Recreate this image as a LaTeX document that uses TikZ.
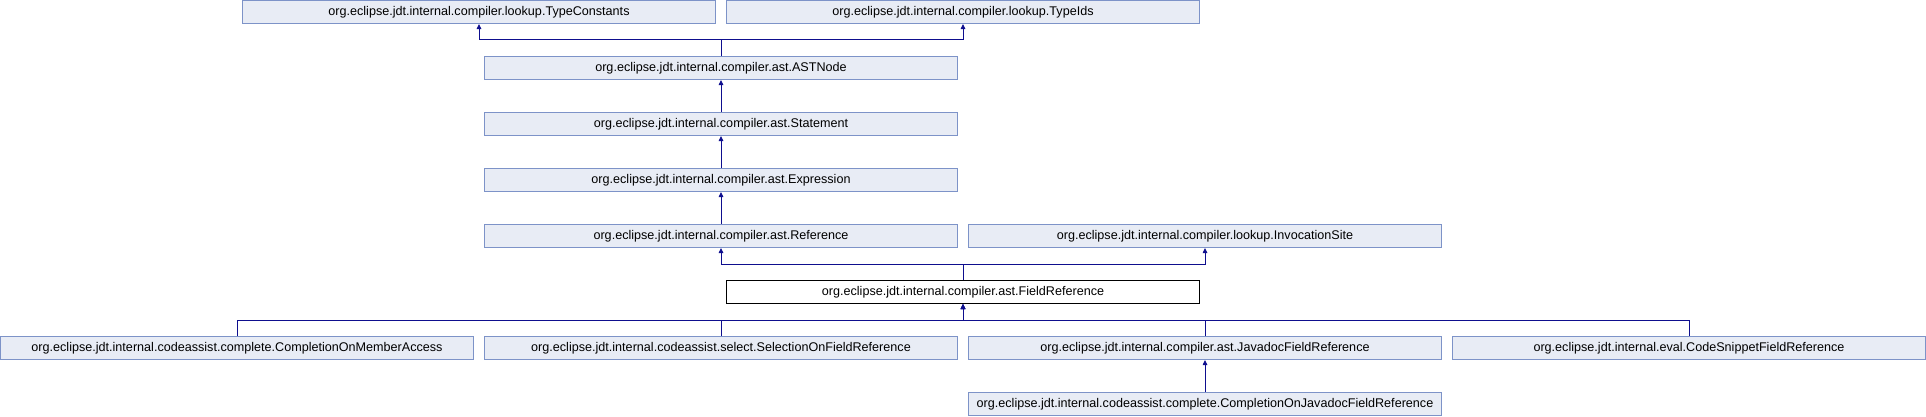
\documentclass[tikz,border=0pt]{standalone}
\usepackage{fontspec}
\setmainfont{Liberation Sans}
\usetikzlibrary{arrows.meta}
\definecolor{boxfill}{HTML}{E8ECF5}
\definecolor{boxline}{HTML}{7D93C8}
\definecolor{edgecol}{HTML}{0E0E8E}
\tikzset{
  cls/.style={draw=boxline, fill=boxfill, line width=1pt, minimum width=473pt, minimum height=23pt, inner sep=0pt, font=\fontsize{12.6}{14}\selectfont},
  cur/.style={cls, draw=black, fill=white},
  edge/.style={draw=edgecol, line width=0.9pt, -{Triangle[width=4.5pt,length=5pt]}}
}
\begin{document}
\begin{tikzpicture}[x=1pt,y=-1pt]
\useasboundingbox (0,0) rectangle (1926,416);
\node[cls] (tc) at (479,12) {org.eclipse.jdt.internal.compiler.lookup.TypeConstants};
\node[cls] (ti) at (963,12) {org.eclipse.jdt.internal.compiler.lookup.TypeIds};
\node[cls] (ast) at (721,68) {org.eclipse.jdt.internal.compiler.ast.ASTNode};
\node[cls] (st) at (721,124) {org.eclipse.jdt.internal.compiler.ast.Statement};
\node[cls] (ex) at (721,180) {org.eclipse.jdt.internal.compiler.ast.Expression};
\node[cls] (rf) at (721,236) {org.eclipse.jdt.internal.compiler.ast.Reference};
\node[cls] (is) at (1205,236) {org.eclipse.jdt.internal.compiler.lookup.InvocationSite};
\node[cur] (fr) at (963,292) {org.eclipse.jdt.internal.compiler.ast.FieldReference};
\node[cls] (cm) at (237,348) {org.eclipse.jdt.internal.codeassist.complete.CompletionOnMemberAccess};
\node[cls] (sf) at (721,348) {org.eclipse.jdt.internal.codeassist.select.SelectionOnFieldReference};
\node[cls] (jf) at (1205,348) {org.eclipse.jdt.internal.compiler.ast.JavadocFieldReference};
\node[cls] (cs) at (1689,348) {org.eclipse.jdt.internal.eval.CodeSnippetFieldReference};
\node[cls] (cj) at (1205,404) {org.eclipse.jdt.internal.codeassist.complete.CompletionOnJavadocFieldReference};
\draw[edge] (ast.north) -- ++(0,-16.2) -| (tc.south);
\draw[edge] (ast.north) -- ++(0,-16.2) -| (ti.south);
\draw[edge] (st.north) -- (ast.south);
\draw[edge] (ex.north) -- (st.south);
\draw[edge] (rf.north) -- (ex.south);
\draw[edge] (fr.north) -- ++(0,-16) -| (rf.south);
\draw[edge] (fr.north) -- ++(0,-16) -| (is.south);
\draw[edge] (cm.north) -- ++(0,-16) -| (fr.south);
\draw[edge] (sf.north) -- ++(0,-16) -| (fr.south);
\draw[edge] (jf.north) -- ++(0,-16) -| (fr.south);
\draw[edge] (cs.north) -- ++(0,-16) -| (fr.south);
\draw[edge] (cj.north) -- (jf.south);
\end{tikzpicture}
\end{document}
